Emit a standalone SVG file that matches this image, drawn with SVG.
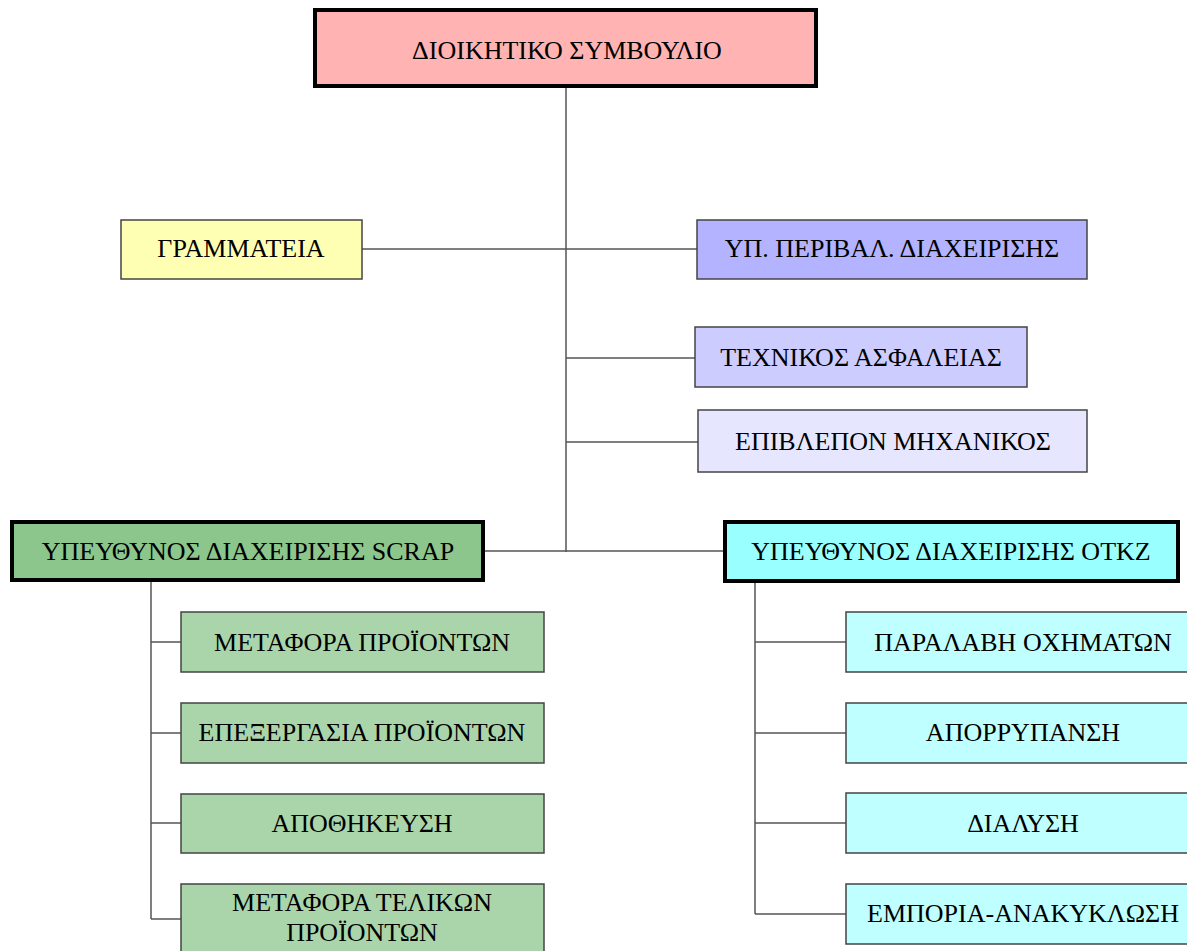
<svg xmlns="http://www.w3.org/2000/svg" width="1187" height="951" viewBox="0 0 1187 951">
<style>
text{font-family:"Liberation Serif","Times New Roman",serif;font-size:26px;fill:#000;text-anchor:middle}
.box{stroke:#444;stroke-width:1.5}
.main{stroke:#000;stroke-width:4}
.conn line{stroke:#555;stroke-width:1.5}
</style>
<rect width="1187" height="951" fill="#fff"/>
<g class="conn">
<line x1="566" y1="87" x2="566" y2="552"/>
<line x1="362" y1="249" x2="697" y2="249"/>
<line x1="566" y1="358" x2="695" y2="358"/>
<line x1="566" y1="442" x2="698" y2="442"/>
<line x1="484" y1="551" x2="724" y2="551"/>
<line x1="151" y1="580" x2="151" y2="919"/>
<line x1="151" y1="642" x2="181" y2="642"/>
<line x1="151" y1="733" x2="181" y2="733"/>
<line x1="151" y1="823" x2="181" y2="823"/>
<line x1="151" y1="919" x2="181" y2="919"/>
<line x1="755" y1="582" x2="755" y2="914"/>
<line x1="755" y1="642" x2="846" y2="642"/>
<line x1="755" y1="733" x2="846" y2="733"/>
<line x1="755" y1="823" x2="846" y2="823"/>
<line x1="755" y1="914" x2="846" y2="914"/>
</g>
<g id="board"><rect class="main" x="315" y="10" width="501" height="76" fill="#ffb3b3"/><text x="567" y="59">ΔΙΟΙΚΗΤΙΚΟ ΣΥΜΒΟΥΛΙΟ</text></g>
<g id="secretariat"><rect class="box" x="121" y="220" width="241" height="59" fill="#ffffb3"/><text x="241" y="257">ΓΡΑΜΜΑΤΕΙΑ</text></g>
<g id="env"><rect class="box" x="697" y="220" width="390" height="59" fill="#b3b3ff"/><text x="892" y="257">ΥΠ. ΠΕΡΙΒΑΛ. ΔΙΑΧΕΙΡΙΣΗΣ</text></g>
<g id="safety"><rect class="box" x="695" y="327" width="332" height="60" fill="#ccccff"/><text x="861" y="366">ΤΕΧΝΙΚΟΣ ΑΣΦΑΛΕΙΑΣ</text></g>
<g id="engineer"><rect class="box" x="698" y="410" width="389" height="62" fill="#e6e6ff"/><text x="893" y="450">ΕΠΙΒΛΕΠΟΝ ΜΗΧΑΝΙΚΟΣ</text></g>
<g id="scrap"><rect class="main" x="12" y="522" width="471" height="58" fill="#8cc68c"/><text x="248" y="560">ΥΠΕΥΘΥΝΟΣ ΔΙΑΧΕΙΡΙΣΗΣ SCRAP</text></g>
<g id="otkz"><rect class="main" x="725" y="522" width="453" height="59" fill="#99ffff"/><text x="951" y="560">ΥΠΕΥΘΥΝΟΣ ΔΙΑΧΕΙΡΙΣΗΣ ΟΤΚΖ</text></g>
<g id="s1"><rect class="box" x="181" y="612" width="363" height="60" fill="#aad5aa"/><text x="362" y="651">ΜΕΤΑΦΟΡΑ ΠΡΟΪΟΝΤΩΝ</text></g>
<g id="s2"><rect class="box" x="181" y="703" width="363" height="60" fill="#aad5aa"/><text x="362" y="741">ΕΠΕΞΕΡΓΑΣΙΑ ΠΡΟΪΟΝΤΩΝ</text></g>
<g id="s3"><rect class="box" x="181" y="794" width="363" height="59" fill="#aad5aa"/><text x="362" y="832">ΑΠΟΘΗΚΕΥΣΗ</text></g>
<g id="s4"><rect class="box" x="181" y="884" width="363" height="70" fill="#aad5aa"/><text x="362" y="911">ΜΕΤΑΦΟΡΑ ΤΕΛΙΚΩΝ</text><text x="362" y="941">ΠΡΟΪΟΝΤΩΝ</text></g>
<g id="o1"><rect class="box" x="846" y="612" width="345" height="60" fill="#bfffff"/><text x="1023" y="651">ΠΑΡΑΛΑΒΗ ΟΧΗΜΑΤΩΝ</text></g>
<g id="o2"><rect class="box" x="846" y="703" width="345" height="60" fill="#bfffff"/><text x="1023" y="741">ΑΠΟΡΡΥΠΑΝΣΗ</text></g>
<g id="o3"><rect class="box" x="846" y="793" width="345" height="60" fill="#bfffff"/><text x="1023" y="832">ΔΙΑΛΥΣΗ</text></g>
<g id="o4"><rect class="box" x="846" y="884" width="345" height="60" fill="#bfffff"/><text x="1023" y="922">ΕΜΠΟΡΙΑ-ΑΝΑΚΥΚΛΩΣΗ</text></g>
</svg>
